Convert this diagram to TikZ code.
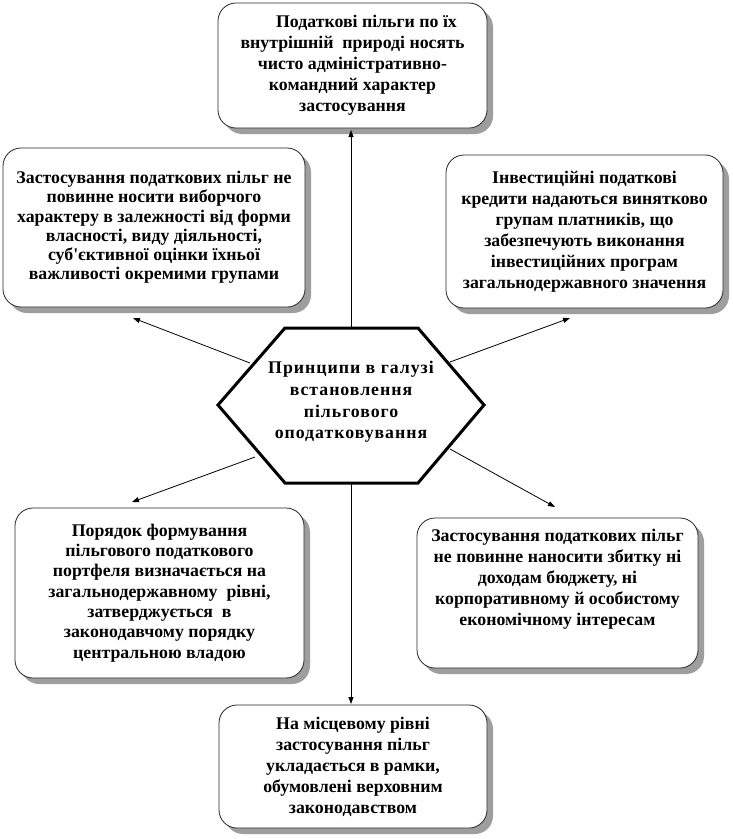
\documentclass[tikz,border=0pt]{standalone}
\usepackage{fontspec}
\setmainfont{Liberation Serif}
\usetikzlibrary{arrows.meta,shadows,calc}
\begin{document}
\begin{tikzpicture}[x=1pt,y=-1pt,
  txt/.style={font=\fontsize{17.8}{21}\selectfont\bfseries, align=center},
  box/.style={txt, draw=black!85, line width=0.8pt, rounded corners=18pt, fill=white, inner sep=0pt,
    drop shadow={shadow xshift=6pt, shadow yshift=-6pt, fill=black!38, opacity=1}},
  hexline/.style={draw=black, line width=3pt, line join=miter, fill=white},
  conn/.style={line width=0.8pt, -{Triangle[length=7pt,width=5pt]}}
]
\useasboundingbox (0,0) rectangle (733,839);
\fill[white] (0,0) rectangle (733,839);

\node[box, minimum width=269pt, minimum height=125pt] (top) at (352.5,65.5)
  {\hspace*{28pt}Податкові пільги по їх\\внутрішній\ \ природі носять\\чисто адміністративно-\\командний характер\\застосування};
\node[box, minimum width=302pt, minimum height=159pt, font=\fontsize{17.8}{19.2}\selectfont\bfseries] (lft) at (154,227.5)
  {Застосування податкових пільг не\\повинне носити виборчого\\характеру в залежності від форми\\власності, виду діяльності,\\суб\textquotesingle єктивної оцінки їхньої\\важливості окремими групами};
\node[box, minimum width=277pt, minimum height=153pt] (rgt) at (584.5,231.5)
  {Інвестиційні податкові\\кредити надаються винятково\\групам платників, що\\забезпечують виконання\\інвестиційних програм\\загальнодержавного значення};
\node[box, minimum width=289pt, minimum height=170pt, font=\fontsize{17.8}{20.3}\selectfont\bfseries] (bl) at (159.5,593)
  {Порядок формування\\пільгового податкового\\портфеля визначається на\\загальнодержавному\ \ рівні,\\затверджується\ \ в\\законодавчому порядку\\центральною владою};
\node[box, minimum width=281pt, minimum height=150pt] (br) at (557.5,593)
  {Застосування податкових пільг\\не повинне наносити збитку ні\\доходам бюджету, ні\\корпоративному й особистому\\економічному інтересам\\[10pt]\mbox{}};
\node[box, minimum width=268pt, minimum height=123pt] (bot) at (353,766.5)
  {На місцевому рівні\\застосування пільг\\укладається в рамки,\\обумовлені верховним\\законодавством};

% hexagon
\coordinate (hL) at (218,405);
\coordinate (hTL) at (285,328);
\coordinate (hTR) at (418,328);
\coordinate (hR) at (484,405);
\coordinate (hBR) at (418,483);
\coordinate (hBL) at (285,483);
\coordinate (hT) at (351,328);
\coordinate (hB) at (351,483);

% connector ends
\coordinate (s1) at (250,363);
\coordinate (s2) at (450,362);
\coordinate (s3) at (255,457);
\coordinate (s4) at (450,449);
\coordinate (e1) at (133,318);
\coordinate (e2) at (570,318);
\coordinate (e3) at (132,502);
\coordinate (e4) at (555,507);
\coordinate (e5) at (351,130);
\coordinate (e6) at (351,704);

\draw[conn] (hT) -- (e5);
\draw[conn] (hB) -- (e6);
\draw[conn] (s1) -- (e1);
\draw[conn] (s2) -- (e2);
\draw[conn] (s3) -- (e3);
\draw[conn] (s4) -- (e4);

\draw[hexline] (hL) -- (hTL) -- (hTR) -- (hR) -- (hBR) -- (hBL) -- cycle;
\node[txt, font=\fontsize{17.8}{21.7}\selectfont\bfseries\addfontfeatures{LetterSpace=5.5}] (hex) at (351,402)
  {Принципи в галузі\\встановлення\\пільгового\\оподатковування};
\end{tikzpicture}
\end{document}
